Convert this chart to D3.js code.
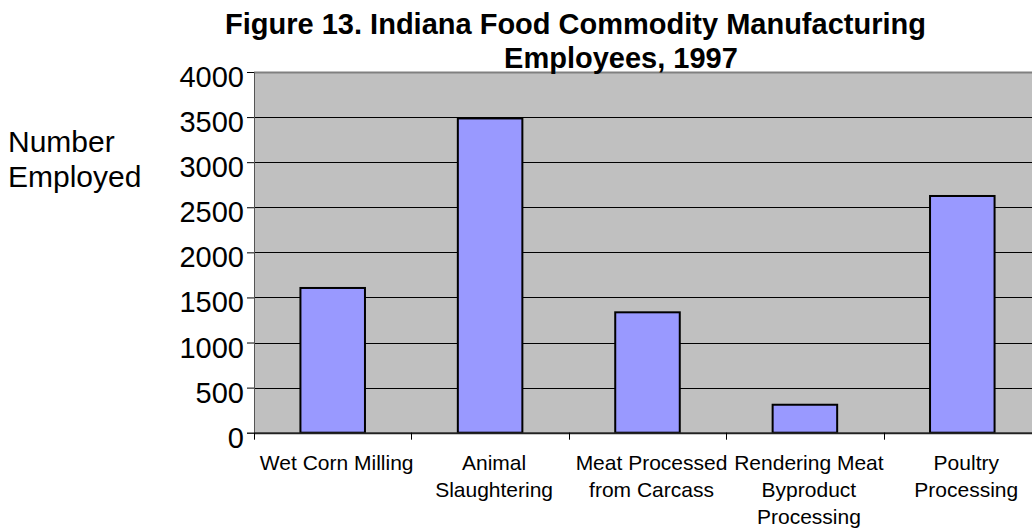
<!DOCTYPE html>
<html><head><meta charset="utf-8">
<script src="https://cdn.jsdelivr.net/npm/d3@7"></script>
<style>body{margin:0;background:#fff}svg{display:block}text{font-family:"Liberation Sans",Arial,sans-serif}</style>
</head><body><svg id="c" width="1032" height="529"></svg>
<script>
const categories = [["Wet Corn Milling"],["Animal","Slaughtering"],["Meat Processed","from Carcass"],["Rendering Meat","Byproduct","Processing"],["Poultry","Processing"]];
const values = [1605, 3485, 1335, 310, 2625];
const yTicks = [0,500,1000,1500,2000,2500,3000,3500,4000];
const titleLines = ["Figure 13. Indiana Food Commodity Manufacturing","Employees, 1997"];
const yTitle = ["Number","Employed"];

const svg = d3.select("#c");
const L = 254, R = 1041, T = 72, B = 432.7;
const idx = d3.range(values.length);
const x = d3.scaleBand().domain(idx).range([L, R]).paddingInner(0.59).paddingOuter(0.295);
const xb = d3.scaleBand().domain(idx).range([L, R]);
const y = d3.scaleLinear().domain([0, 4000]).range([B, T]);

svg.append("rect").attr("x", L).attr("y", T).attr("width", R - L).attr("height", B - T).attr("fill", "#c0c0c0");
// gridlines
svg.append("g").selectAll("line").data(yTicks.filter(d => d > 0 && d < 4000)).join("line")
  .attr("x1", L).attr("x2", R).attr("y1", d => Math.round(y(d)) + 0.5).attr("y2", d => Math.round(y(d)) + 0.5)
  .attr("stroke", "#000").attr("stroke-width", 1);
svg.append("line").attr("x1", L).attr("x2", R).attr("y1", T + 0.5).attr("y2", T + 0.5).attr("stroke", "#808080").attr("stroke-width", 2);

// bars
svg.append("g").selectAll("rect").data(values).join("rect")
  .attr("x", (d, i) => x(i)).attr("width", x.bandwidth())
  .attr("y", d => y(d)).attr("height", d => B - y(d))
  .attr("fill", "#9999ff").attr("stroke", "#000").attr("stroke-width", 2);

// y axis
const ya = d3.axisLeft(y).tickValues(yTicks).tickFormat(d3.format("d")).tickSize(7).tickPadding(3);
const gy = svg.append("g").attr("transform", `translate(${L},0)`).call(ya);
gy.select(".domain").attr("stroke", "#555").attr("stroke-width", 1);
gy.selectAll(".tick line").attr("stroke", "#000");
gy.selectAll(".tick text").attr("font-size", 29).attr("fill", "#000").attr("font-family", "Liberation Sans, Arial, sans-serif").attr("dy", "0.5em");

// x axis
const xa = d3.axisBottom(xb).tickValues([]).tickSizeOuter(0);
const gx = svg.append("g").attr("transform", `translate(0,${B})`).call(xa);
gx.select(".domain").attr("stroke", "#222").attr("stroke-width", 2);
svg.append("g").selectAll("line").data(d3.range(values.length + 1)).join("line")
  .attr("x1", d => Math.round(L + d * xb.step()) + 0.5).attr("x2", d => Math.round(L + d * xb.step()) + 0.5)
  .attr("y1", B).attr("y2", B + 7).attr("stroke", "#000");

// category labels
const cl = svg.append("g").selectAll("text").data(categories).join("text")
  .attr("x", (d, i) => xb(i) + xb.bandwidth() / 2 + 4).attr("y", 470)
  .attr("text-anchor", "middle").attr("font-size", 21).attr("fill", "#000");
cl.selectAll("tspan").data(d => d).join("tspan")
  .attr("x", function() { return d3.select(this.parentNode).attr("x"); })
  .attr("dy", (d, i) => i === 0 ? 0 : 27).text(d => d);

// title
svg.append("text").attr("x", 575.5).attr("y", 34).attr("text-anchor", "middle").attr("font-size", 29).attr("font-weight", "bold").text(titleLines[0]);
svg.append("text").attr("x", 621).attr("y", 68).attr("text-anchor", "middle").attr("font-size", 29).attr("font-weight", "bold").text(titleLines[1]);

// y title
svg.append("text").attr("x", 8).attr("y", 152).attr("font-size", 30).text(yTitle[0]);
svg.append("text").attr("x", 8).attr("y", 187).attr("font-size", 30).text(yTitle[1]);
</script></body></html>
